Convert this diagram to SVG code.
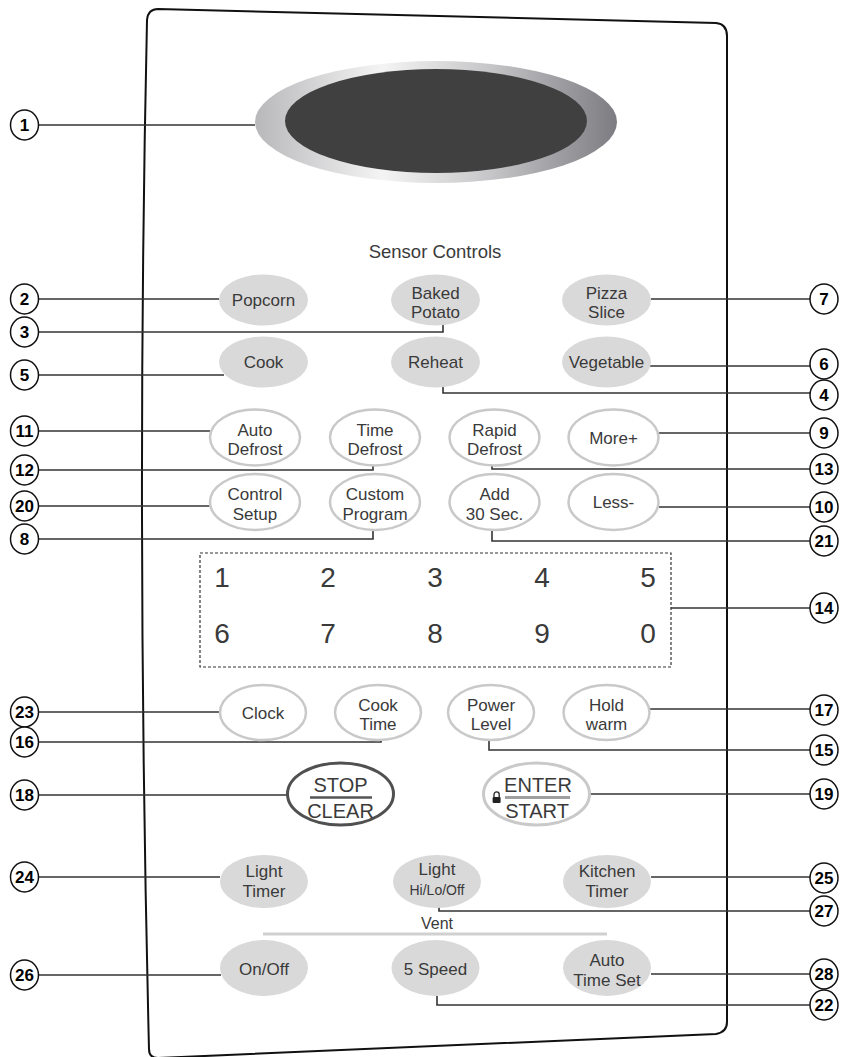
<svg xmlns="http://www.w3.org/2000/svg" width="841" height="1057" viewBox="0 0 841 1057">
<defs>
<linearGradient id="ring" x1="0" y1="0" x2="1" y2="0">
<stop offset="0" stop-color="#b8b8bb"/>
<stop offset="0.35" stop-color="#f4f4f4"/>
<stop offset="0.65" stop-color="#c6c6c8"/>
<stop offset="1" stop-color="#7c7c82"/>
</linearGradient>
<style>
.bf{fill:#d9d9d9}
.bo{fill:#fff;stroke:#c9c9c9;stroke-width:2.5}
.t{font-family:"Liberation Sans",Arial,sans-serif;font-size:17px;fill:#3a3a3a;text-anchor:middle}
.ts{font-size:14px}
.tb{font-size:20px}
.dg{font-family:"Liberation Sans",Arial,sans-serif;font-size:28px;fill:#3a3a3a;text-anchor:middle}
.co{fill:#fff;stroke:#111;stroke-width:1.5}
.cn{font-family:"Liberation Sans",Arial,sans-serif;font-weight:bold;font-size:17px;fill:#000;text-anchor:middle}
.ln{fill:none;stroke:#333;stroke-width:1.6}
</style>
</defs>
<rect width="841" height="1057" fill="#fff"/>
<g id="panel">
<path d="M158,9 L716,23 Q727,24 727,36 L727,1022 Q727,1032 716,1034 L158,1058 Q149,1058 149,1049 Q136,520 147,20 Q148,9 158,9 Z" fill="none" stroke="#111" stroke-width="2"/>
</g>
<g id="display">
<ellipse cx="436" cy="122" rx="181" ry="61" fill="url(#ring)"/>
<ellipse cx="436" cy="121" rx="151" ry="52" fill="#404040"/>
</g>
<g id="connectors">
<path class="ln" d="M39,125 H255"/>
<path class="ln" d="M39,299 H219"/>
<path class="ln" d="M39,332 H443 V325"/>
<path class="ln" d="M39,375 H224"/>
<path class="ln" d="M651,299 H810"/>
<path class="ln" d="M650,366 H810"/>
<path class="ln" d="M443,387 V393 H810"/>
<path class="ln" d="M39,431 H210"/>
<path class="ln" d="M39,470 H373 V466"/>
<path class="ln" d="M810,469 H492 V466"/>
<path class="ln" d="M659,433 H810"/>
<path class="ln" d="M39,506 H210"/>
<path class="ln" d="M659,507 H810"/>
<path class="ln" d="M39,539 H373 V530"/>
<path class="ln" d="M810,541 H492 V530"/>
<path class="ln" d="M671,608 H810"/>
<path class="ln" d="M39,712 H220"/>
<path class="ln" d="M39,742 H381 V739"/>
<path class="ln" d="M810,750 H489 V740"/>
<path class="ln" d="M649,709 H810"/>
<path class="ln" d="M39,795 H287"/>
<path class="ln" d="M590,794 H810"/>
<path class="ln" d="M39,877 H220"/>
<path class="ln" d="M651,877 H810"/>
<path class="ln" d="M810,911 H439 V907"/>
<path class="ln" d="M39,975 H221"/>
<path class="ln" d="M651,974 H810"/>
<path class="ln" d="M810,1005 H437 V996"/>
</g>
<text class="t" x="435" y="258" style="font-size:18.5px">Sensor Controls</text>
<g id="b-popcorn"><ellipse class="bf" cx="263.5" cy="300" rx="44.5" ry="25.5"/><text class="t" x="263.5" y="306">Popcorn</text></g>
<g id="b-baked"><ellipse class="bf" cx="435.5" cy="300" rx="44.5" ry="25.5"/><text class="t" x="435.5" y="298.5">Baked</text><text class="t" x="435.5" y="318">Potato</text></g>
<g id="b-pizza"><ellipse class="bf" cx="606.5" cy="300" rx="44.5" ry="25.5"/><text class="t" x="606.5" y="298.5">Pizza</text><text class="t" x="606.5" y="318">Slice</text></g>
<g id="b-cook"><ellipse class="bf" cx="263.5" cy="362" rx="44.5" ry="25.5"/><text class="t" x="263.5" y="368">Cook</text></g>
<g id="b-reheat"><ellipse class="bf" cx="435.5" cy="362" rx="44.5" ry="25.5"/><text class="t" x="435.5" y="368">Reheat</text></g>
<g id="b-vegetable"><ellipse class="bf" cx="606.5" cy="362" rx="44.5" ry="25.5"/><text class="t" x="606.5" y="368">Vegetable</text></g>
<g id="b-autodefrost"><ellipse class="bo" cx="255" cy="437.5" rx="45" ry="28"/><text class="t" x="255" y="435.5">Auto</text><text class="t" x="255" y="455">Defrost</text></g>
<g id="b-timedefrost"><ellipse class="bo" cx="375" cy="437.5" rx="45" ry="28"/><text class="t" x="375" y="435.5">Time</text><text class="t" x="375" y="455">Defrost</text></g>
<g id="b-rapiddefrost"><ellipse class="bo" cx="494.5" cy="437.5" rx="45" ry="28"/><text class="t" x="494.5" y="435.5">Rapid</text><text class="t" x="494.5" y="455">Defrost</text></g>
<g id="b-more"><ellipse class="bo" cx="613.5" cy="437.5" rx="45" ry="28"/><text class="t" x="613.5" y="443.5">More+</text></g>
<g id="b-controlsetup"><ellipse class="bo" cx="255" cy="502" rx="45" ry="28"/><text class="t" x="255" y="500">Control</text><text class="t" x="255" y="519.5">Setup</text></g>
<g id="b-customprogram"><ellipse class="bo" cx="375" cy="502" rx="45" ry="28"/><text class="t" x="375" y="500">Custom</text><text class="t" x="375" y="519.5">Program</text></g>
<g id="b-add30"><ellipse class="bo" cx="494.5" cy="502" rx="45" ry="28"/><text class="t" x="494.5" y="500">Add</text><text class="t" x="494.5" y="519.5">30 Sec.</text></g>
<g id="b-less"><ellipse class="bo" cx="613.5" cy="502" rx="45" ry="28"/><text class="t" x="613.5" y="508">Less-</text></g>
<g id="numpad">
<rect x="200" y="553" width="471" height="114" fill="none" stroke="#333" stroke-width="1.2" stroke-dasharray="3,2"/>
<text class="dg" x="222" y="587">1</text><text class="dg" x="328" y="587">2</text><text class="dg" x="435" y="587">3</text><text class="dg" x="542" y="587">4</text><text class="dg" x="648" y="587">5</text>
<text class="dg" x="222" y="643">6</text><text class="dg" x="328" y="643">7</text><text class="dg" x="435" y="643">8</text><text class="dg" x="542" y="643">9</text><text class="dg" x="648" y="643">0</text>
</g>
<g id="b-clock"><ellipse class="bo" cx="263" cy="712.5" rx="43" ry="27.5"/><text class="t" x="263" y="718.5">Clock</text></g>
<g id="b-cooktime"><ellipse class="bo" cx="378" cy="712.5" rx="43" ry="27.5"/><text class="t" x="378" y="710.5">Cook</text><text class="t" x="378" y="730">Time</text></g>
<g id="b-powerlevel"><ellipse class="bo" cx="491" cy="712.5" rx="43" ry="27.5"/><text class="t" x="491" y="710.5">Power</text><text class="t" x="491" y="730">Level</text></g>
<g id="b-holdwarm"><ellipse class="bo" cx="606.5" cy="712.5" rx="43" ry="27.5"/><text class="t" x="606.5" y="710.5">Hold</text><text class="t" x="606.5" y="730">warm</text></g>
<g id="b-stopclear"><ellipse cx="340.5" cy="794" rx="53" ry="31" fill="#fff" stroke="#505050" stroke-width="3"/><text class="t tb" x="340.5" y="792">STOP</text><line x1="310" y1="797.5" x2="372" y2="797.5" stroke="#555" stroke-width="2.5"/><text class="t tb" x="340.5" y="818">CLEAR</text></g>
<g id="b-enterstart"><ellipse cx="536.5" cy="794" rx="53" ry="31" fill="#fff" stroke="#c9c9c9" stroke-width="3"/><path d="M494,797 V794.5 A2.6,2.6 0 0 1 499.2,794.5 V797" fill="none" stroke="#222" stroke-width="1.3"/><rect x="492.6" y="797" width="8" height="6" rx="1" fill="#222"/><text class="t tb" x="538" y="792">ENTER</text><line x1="505" y1="797.5" x2="570" y2="797.5" stroke="#a0a0a0" stroke-width="3"/><text class="t tb" x="537" y="818">START</text></g>
<g id="b-lighttimer"><ellipse class="bf" cx="264" cy="881.5" rx="44" ry="26.5"/><text class="t" x="264" y="877">Light</text><text class="t" x="264" y="897">Timer</text></g>
<g id="b-lighthilo"><ellipse class="bf" cx="437" cy="881.5" rx="44" ry="26.5"/><text class="t" x="437" y="875">Light</text><text class="t ts" x="437" y="894.5">Hi/Lo/Off</text></g>
<g id="b-kitchentimer"><ellipse class="bf" cx="607" cy="881.5" rx="44" ry="26.5"/><text class="t" x="607" y="877">Kitchen</text><text class="t" x="607" y="897">Timer</text></g>
<g id="vent">
<text class="t" x="437" y="929" style="font-size:16px">Vent</text>
<line x1="263" y1="934" x2="607" y2="934" stroke="#d0d0d0" stroke-width="3"/>
</g>
<g id="b-onoff"><ellipse class="bf" cx="264" cy="968" rx="44" ry="28"/><text class="t" x="264" y="974.5">On/Off</text></g>
<g id="b-5speed"><ellipse class="bf" cx="435.5" cy="968" rx="44" ry="28"/><text class="t" x="435.5" y="974.5">5 Speed</text></g>
<g id="b-autotimeset"><ellipse class="bf" cx="607" cy="968" rx="44" ry="28"/><text class="t" x="607" y="966">Auto</text><text class="t" x="607" y="986">Time Set</text></g>
<g id="callouts">
<g id="c1"><ellipse class="co" cx="24.5" cy="125" rx="14" ry="15"/><text class="cn" x="24.5" y="131">1</text></g>
<g id="c2"><ellipse class="co" cx="24.5" cy="299" rx="14" ry="15"/><text class="cn" x="24.5" y="305">2</text></g>
<g id="c3"><ellipse class="co" cx="24.5" cy="332" rx="14" ry="15"/><text class="cn" x="24.5" y="338">3</text></g>
<g id="c5"><ellipse class="co" cx="24.5" cy="375" rx="14" ry="15"/><text class="cn" x="24.5" y="381">5</text></g>
<g id="c11"><ellipse class="co" cx="24.5" cy="431" rx="14" ry="15"/><text class="cn" x="24.5" y="437">11</text></g>
<g id="c12"><ellipse class="co" cx="24.5" cy="470" rx="14" ry="15"/><text class="cn" x="24.5" y="476">12</text></g>
<g id="c20"><ellipse class="co" cx="24.5" cy="506" rx="14" ry="15"/><text class="cn" x="24.5" y="512">20</text></g>
<g id="c8"><ellipse class="co" cx="24.5" cy="539" rx="14" ry="15"/><text class="cn" x="24.5" y="545">8</text></g>
<g id="c23"><ellipse class="co" cx="24.5" cy="712" rx="14" ry="15"/><text class="cn" x="24.5" y="718">23</text></g>
<g id="c16"><ellipse class="co" cx="24.5" cy="742" rx="14" ry="15"/><text class="cn" x="24.5" y="748">16</text></g>
<g id="c18"><ellipse class="co" cx="24.5" cy="795" rx="14" ry="15"/><text class="cn" x="24.5" y="801">18</text></g>
<g id="c24"><ellipse class="co" cx="24.5" cy="877" rx="14" ry="15"/><text class="cn" x="24.5" y="883">24</text></g>
<g id="c26"><ellipse class="co" cx="24.5" cy="975" rx="14" ry="15"/><text class="cn" x="24.5" y="981">26</text></g>
<g id="c7"><ellipse class="co" cx="824" cy="299" rx="14" ry="15"/><text class="cn" x="824" y="305">7</text></g>
<g id="c6"><ellipse class="co" cx="824" cy="364" rx="14" ry="15"/><text class="cn" x="824" y="370">6</text></g>
<g id="c4"><ellipse class="co" cx="824" cy="395" rx="14" ry="15"/><text class="cn" x="824" y="401">4</text></g>
<g id="c9"><ellipse class="co" cx="824" cy="433" rx="14" ry="15"/><text class="cn" x="824" y="439">9</text></g>
<g id="c13"><ellipse class="co" cx="824" cy="469" rx="14" ry="15"/><text class="cn" x="824" y="475">13</text></g>
<g id="c10"><ellipse class="co" cx="824" cy="507" rx="14" ry="15"/><text class="cn" x="824" y="513">10</text></g>
<g id="c21"><ellipse class="co" cx="824" cy="541" rx="14" ry="15"/><text class="cn" x="824" y="547">21</text></g>
<g id="c14"><ellipse class="co" cx="824" cy="608" rx="14" ry="15"/><text class="cn" x="824" y="614">14</text></g>
<g id="c17"><ellipse class="co" cx="824" cy="710" rx="14" ry="15"/><text class="cn" x="824" y="716">17</text></g>
<g id="c15"><ellipse class="co" cx="824" cy="750" rx="14" ry="15"/><text class="cn" x="824" y="756">15</text></g>
<g id="c19"><ellipse class="co" cx="824" cy="794" rx="14" ry="15"/><text class="cn" x="824" y="800">19</text></g>
<g id="c25"><ellipse class="co" cx="824" cy="878" rx="14" ry="15"/><text class="cn" x="824" y="884">25</text></g>
<g id="c27"><ellipse class="co" cx="824" cy="911" rx="14" ry="15"/><text class="cn" x="824" y="917">27</text></g>
<g id="c28"><ellipse class="co" cx="824" cy="974" rx="14" ry="15"/><text class="cn" x="824" y="980">28</text></g>
<g id="c22"><ellipse class="co" cx="824" cy="1005" rx="14" ry="15"/><text class="cn" x="824" y="1011">22</text></g>
</g>
</svg>
